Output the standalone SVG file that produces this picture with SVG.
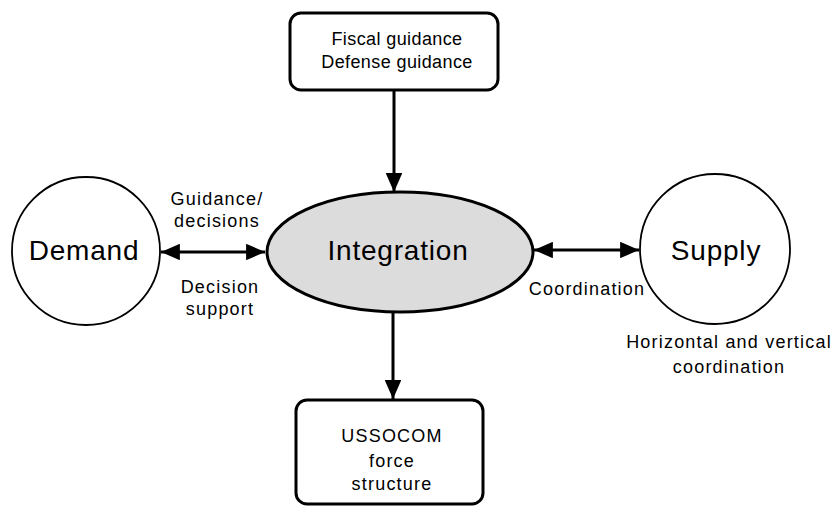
<svg xmlns="http://www.w3.org/2000/svg" width="832" height="508" viewBox="0 0 832 508">
<style>
text{font-family:"Liberation Sans",Arial,sans-serif;fill:#000;text-anchor:middle}
.lbl{font-size:18px;letter-spacing:1.2px}
.fis{font-size:18px;letter-spacing:0.4px}
.big{font-size:28px;letter-spacing:0.8px}
.box{fill:#fff;stroke:#000;stroke-width:3}
.circ{fill:#fff;stroke:#000;stroke-width:1.8}
.edge{stroke:#000;stroke-width:3;fill:none}
</style>
<defs>
<marker id="ah" viewBox="0 0 10 10" refX="10" refY="5" markerWidth="6.3" markerHeight="5.5" orient="auto-start-reverse" markerUnits="strokeWidth" preserveAspectRatio="none">
<path d="M0,0 L10,5 L0,10 z" fill="#000"/>
</marker>
</defs>
<rect width="832" height="508" fill="#fff"/>
<g id="connectors">
<line class="edge" x1="394" y1="90" x2="394" y2="192" marker-end="url(#ah)"/>
<line class="edge" x1="393" y1="313" x2="393" y2="399" marker-end="url(#ah)"/>
<line class="edge" x1="161" y1="252" x2="265" y2="252" marker-start="url(#ah)" marker-end="url(#ah)"/>
<line class="edge" x1="534" y1="250" x2="639" y2="250" marker-start="url(#ah)" marker-end="url(#ah)"/>
</g>
<g id="fiscal">
<rect class="box" x="290" y="13" width="208" height="77" rx="11"/>
<text class="fis" x="397" y="45">Fiscal guidance</text>
<text class="fis" x="397" y="68">Defense guidance</text>
</g>
<g id="integration">
<ellipse cx="400" cy="252" rx="133" ry="60" fill="#dcdcdc" stroke="#000" stroke-width="3"/>
<text class="big" x="398" y="260">Integration</text>
</g>
<g id="demand">
<circle class="circ" cx="86" cy="251" r="74"/>
<text class="big" x="84" y="260">Demand</text>
</g>
<g id="supply">
<circle class="circ" cx="715" cy="249" r="75"/>
<text class="big" x="716" y="260">Supply</text>
</g>
<g id="ussocom">
<rect class="box" x="296" y="400" width="187" height="104" rx="11"/>
<text class="lbl" x="392" y="442">USSOCOM</text>
<text class="lbl" x="392" y="467">force</text>
<text class="lbl" x="392" y="490">structure</text>
</g>
<g id="labels">
<text class="lbl" x="217" y="205">Guidance/</text>
<text class="lbl" x="217" y="227">decisions</text>
<text class="lbl" x="220" y="293">Decision</text>
<text class="lbl" x="220" y="315">support</text>
<text class="lbl" x="587" y="295">Coordination</text>
<text class="lbl" x="729" y="348">Horizontal and vertical</text>
<text class="lbl" x="729" y="373">coordination</text>
</g>
</svg>
